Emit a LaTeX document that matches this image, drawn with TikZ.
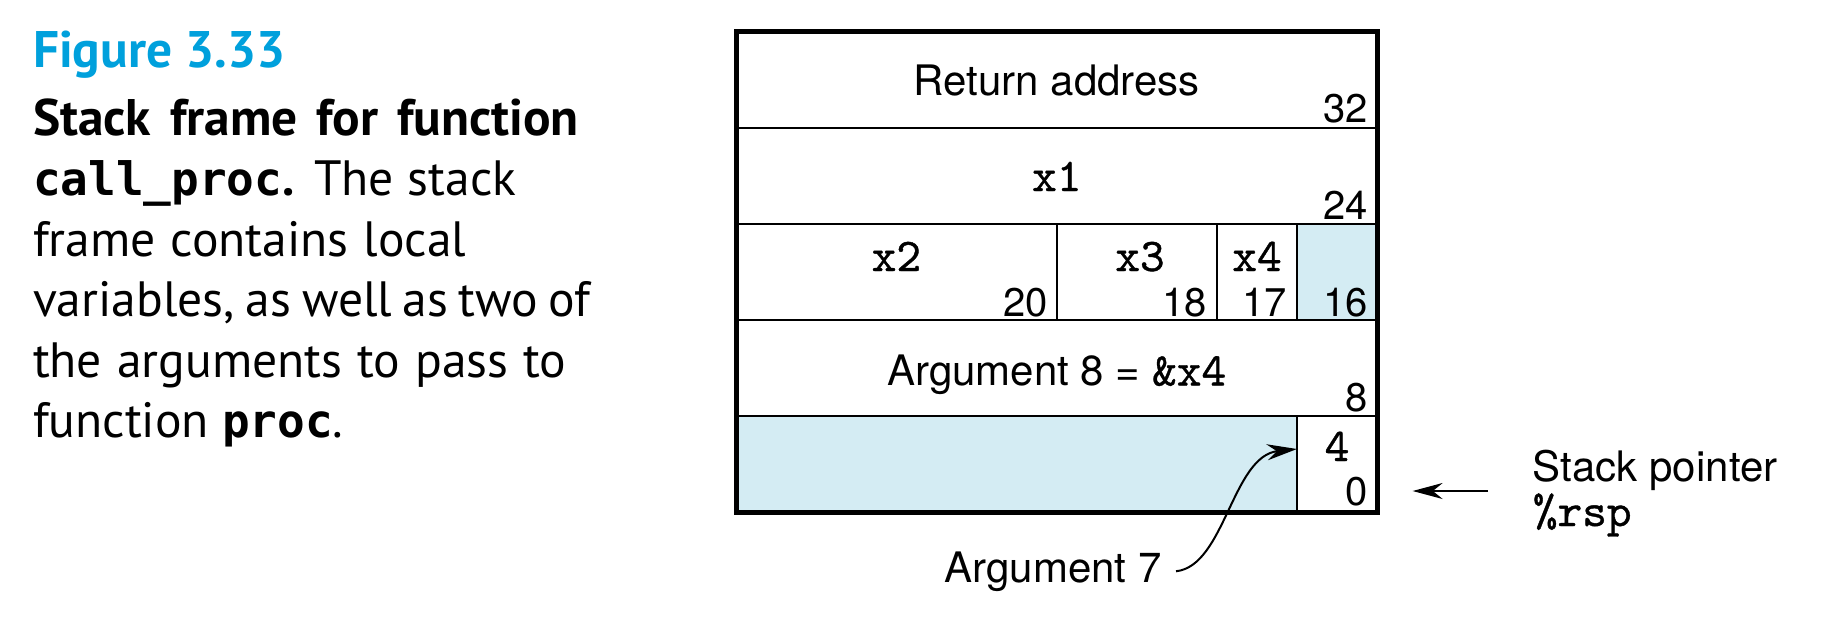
\documentclass[tikz,border=0pt]{standalone}
\usepackage{fontspec}
\setmainfont{TeX Gyre Heros}
\setmonofont[FakeBold=0.8]{lmmono10-regular.otf}
\newfontfamily\capfont{PT Sans}
\newfontfamily\heavymono{DejaVu Sans Mono}
\usetikzlibrary{arrows.meta}
\definecolor{stackblue}{RGB}{212,236,243}
\definecolor{figblue}{RGB}{0,160,220}
\newcommand{\heavy}[1]{{\fontsize{23}{28}\selectfont\heavymono\bfseries #1}}
\begin{document}
\begin{tikzpicture}[x=0.5pt,y=-0.5pt,
  lbl/.style={font=\fontsize{21}{25}\selectfont, inner sep=0pt, anchor=base},
  off/.style={font=\fontsize{20}{24}\selectfont, inner sep=0pt, anchor=base east},
  code/.style={font=\fontsize{23.5}{26}\selectfont\ttfamily, inner sep=0pt, anchor=base},
  capline/.style={font=\fontsize{24.8}{28}\selectfont\capfont, inner sep=0pt, anchor=base west},
  capbold/.style={font=\fontsize{25.7}{28}\selectfont\capfont\bfseries, inner sep=0pt, anchor=base west},
  thinline/.style={draw=black, line width=1pt},
  ptr/.style={-{Stealth[length=15pt,width=8pt]}, line width=1pt}
]
\useasboundingbox (0,0) rectangle (1826,616);
% fills
\fill[stackblue] (1297,223.8) rectangle (1377.6,320);
\fill[stackblue] (736,416.2) rectangle (1297,512.4);
% inner lines
\draw[thinline] (736,127.6) -- (1377.6,127.6);
\draw[thinline] (736,223.8) -- (1377.6,223.8);
\draw[thinline] (736,320) -- (1377.6,320);
\draw[thinline] (736,416.2) -- (1377.6,416.2);
\draw[thinline] (1056.8,223.8) -- (1056.8,320);
\draw[thinline] (1217,223.8) -- (1217,320);
\draw[thinline] (1297,223.8) -- (1297,320);
\draw[thinline] (1297,416.2) -- (1297,512.4);
% outer frame
\draw[line width=2.5pt] (736,31.4) rectangle (1377.6,512.4);
% cell texts
\node[lbl] (ret) at (1056.8,95.5) {Return address};
\node[off] (o32) at (1368,122) {32};
\node[code] (x1) at (1056.8,191) {x1};
\node[off] (o24) at (1368,219) {24};
\node[code] (x2) at (896.4,271) {x2};
\node[code] (x3) at (1140,271) {x3};
\node[code] (x4) at (1257,271) {x4};
\node[off] (o20) at (1048,316) {20};
\node[off] (o18) at (1207,316) {18};
\node[off] (o17) at (1287,316) {17};
\node[off] (o16) at (1368,316) {16};
\node[lbl] (arg8) at (1056.8,385.5) {Argument 8 = {\fontsize{23.5}{26}\selectfont\ttfamily\&x4}};
\node[off] (o8) at (1368,411) {8};
\node[code] (v4) at (1337,461) {4};
\node[off] (o0) at (1368,505) {0};
% Argument 7
\node[lbl, anchor=base east] (arg7) at (1162,582) {Argument 7};
\coordinate (a7tip) at (1297,449);
\draw[ptr] ([xshift=7pt]arg7.east) .. controls (1225,566) and (1232,456) .. (a7tip);
% stack pointer
\node[lbl, anchor=base west] (sp) at (1532.5,481) {Stack pointer};
\node[code, anchor=base west] (rsp) at (1532.5,526) {\%rsp};
\coordinate (spstart) at (1488,491);
\coordinate (sptip) at (1412.6,491);
\draw[ptr] (spstart) -- (sptip);
% caption
\node[capbold, text=figblue] (fig) at (32.6,67.5) {Figure 3.33};
\node[capbold] (c1) at (32.6,135) {\makebox[273pt][s]{Stack frame for function}};
\node[capline] (c2) at (32.6,195.6) {\makebox[241.6pt][s]{\heavy{call\_proc}\textbf{.} The stack}};
\node[capline] (c3) at (32.6,256) {\makebox[216.6pt][s]{frame contains local}};
\node[capline] (c4) at (32.6,316.6) {\makebox[278.9pt][s]{variables, as well as two of}};
\node[capline] (c5) at (32.6,377) {\makebox[266.7pt][s]{the arguments to pass to}};
\node[capline] (c6) at (32.6,437.7) {function \heavy{proc}.};
\end{tikzpicture}
\end{document}
